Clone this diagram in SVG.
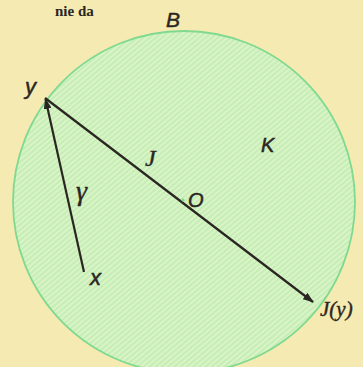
<svg xmlns="http://www.w3.org/2000/svg" width="363" height="367" viewBox="0 0 363 367">
<defs>
<style>
.lbl{font-family:"Liberation Sans",Arial,sans-serif;font-style:italic;font-size:20px;fill:#2a2622;stroke:#2a2622;stroke-width:0.5}
.scr{font-family:"Liberation Serif","DejaVu Serif",serif;font-style:italic;font-size:24px;fill:#2a2622;stroke:#2a2622;stroke-width:0.4}
.head{font-family:"Liberation Serif",serif;font-weight:bold;font-size:15px;fill:#2a2622}
.edge{stroke:#2a2622;stroke-width:2.2;fill:none}
</style>
<pattern id="hatch" width="4" height="4" patternUnits="userSpaceOnUse" patternTransform="rotate(-40)">
<rect width="4" height="4" fill="#daf4c3"/>
<line x1="0" y1="1" x2="4" y2="1" stroke="#bdebb5" stroke-width="1.4"/>
</pattern>
<marker id="arr" markerWidth="11" markerHeight="8" refX="10" refY="4" orient="auto" markerUnits="userSpaceOnUse">
<path d="M0,0 L11,4 L0,8 Z" fill="#2a2622"/>
</marker>
</defs>
<rect width="363" height="367" fill="#f6eab3"/>
<text class="head" x="55" y="16">nie da</text>
<g id="ball">
<circle cx="184" cy="202" r="171" fill="url(#hatch)" stroke="#7fd98f" stroke-width="1.8"/>
</g>
<g id="connectors">
<line class="edge" x1="84" y1="272" x2="45.5" y2="99" marker-end="url(#arr)"/>
<line class="edge" x1="45" y1="98" x2="313" y2="302" marker-end="url(#arr)"/>
</g>
<g id="center"><circle cx="183" cy="200" r="1.5" fill="#7fd98f"/></g>
<g id="labels">
<text class="lbl" x="166" y="27" style="font-size:21px">B</text>
<text class="lbl" x="25" y="94" style="font-size:22px">y</text>
<text class="lbl" x="261" y="152">K</text>
<text class="lbl" x="188" y="207">O</text>
<text class="lbl" x="90" y="285" style="font-size:22px">x</text>
<text class="scr" x="145" y="166">J</text>
<text class="scr" x="76" y="200" style="font-size:28px">γ</text>
<text class="scr" x="320" y="316" style="font-size:21px">J(y)</text>
</g>
</svg>
